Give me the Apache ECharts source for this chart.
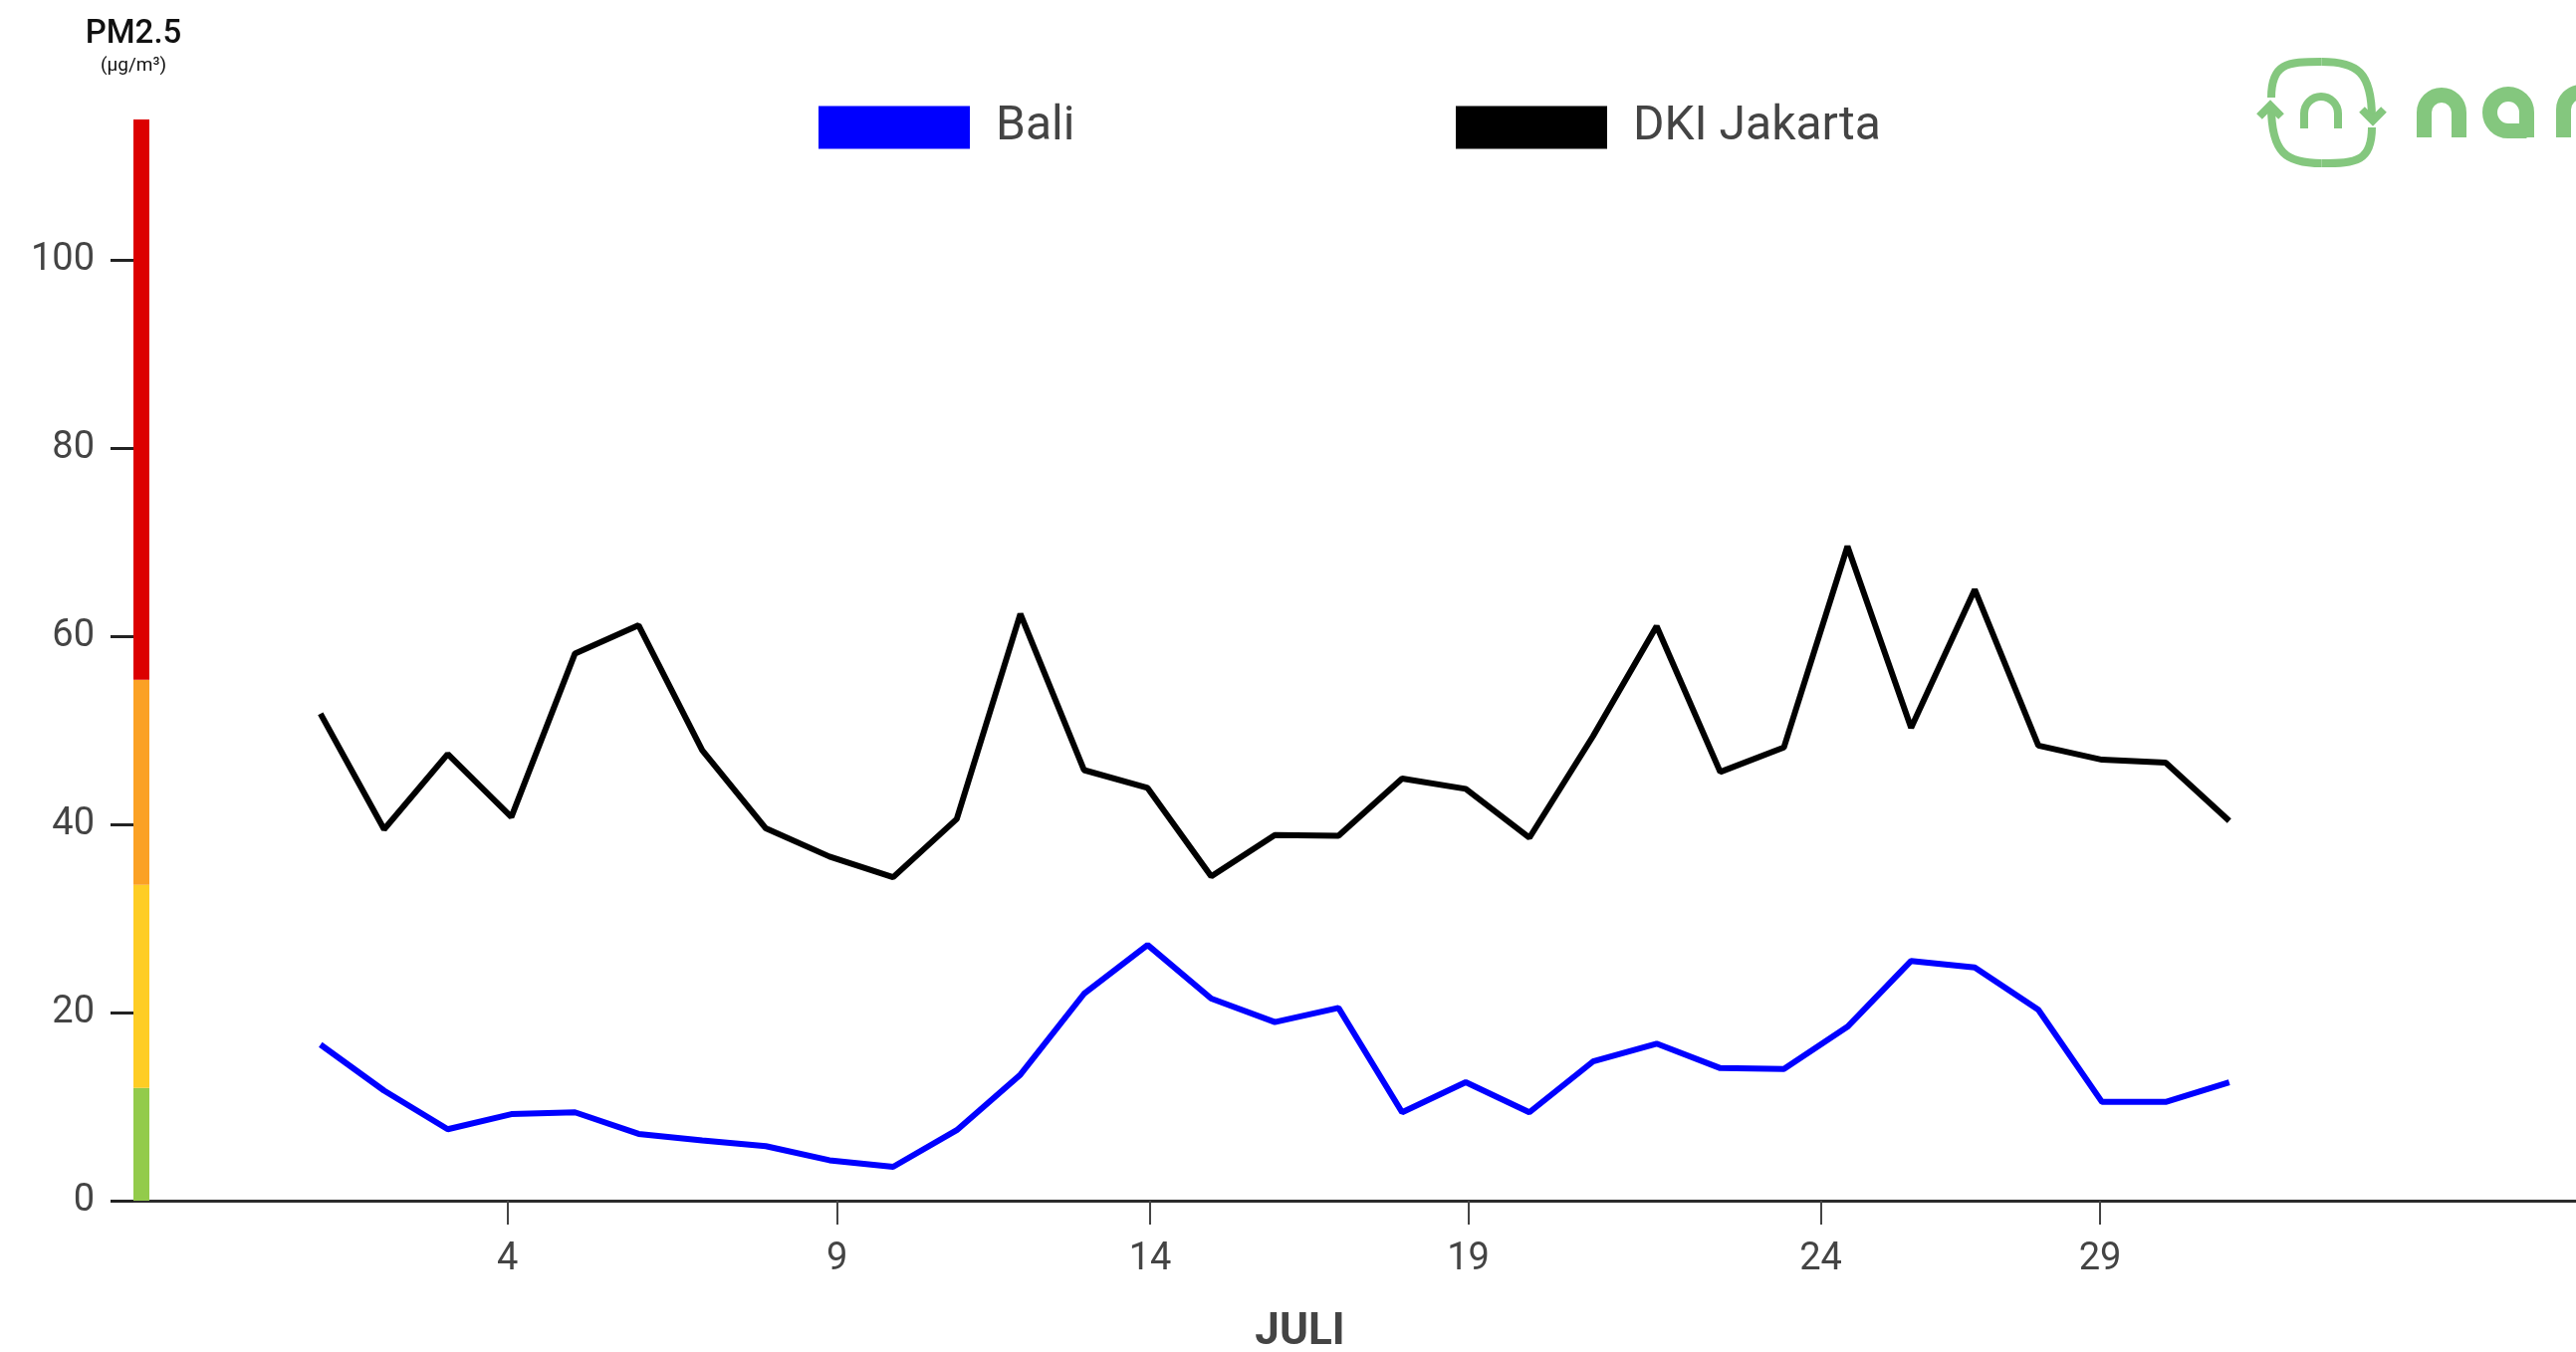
<!DOCTYPE html>
<html>
<head>
<meta charset="utf-8">
<title>PM2.5 Juli — Bali vs DKI Jakarta</title>
<script src="https://cdn.jsdelivr.net/npm/echarts@6/dist/echarts.min.js"></script>
<style>
  html, body { margin: 0; padding: 0; background: #ffffff; }
  #chart { width: 2587px; height: 1358px; }
</style>
</head>
<body>
<div id="chart"></div>
<script>
// Daily PM2.5 averages for July (µg/m³)
const days = [1, 2, 3, 4, 5, 6, 7, 8, 9, 10, 11, 12, 13, 14, 15, 16, 17, 18, 19, 20, 21, 22, 23, 24, 25, 26, 27, 28, 29, 30, 31];
const bali = [16.6, 11.7, 7.6, 9.2, 9.4, 7.1, 6.4, 5.8, 4.3, 3.6, 7.5, 13.4, 22.0, 27.2, 21.5, 19.0, 20.5, 9.4, 12.6, 9.4, 14.8, 16.7, 14.1, 14.0, 18.5, 25.5, 24.8, 20.3, 10.5, 10.5, 12.6];
const jakarta = [51.8, 39.5, 47.5, 40.8, 58.2, 61.2, 47.9, 39.6, 36.6, 34.4, 40.6, 62.4, 45.8, 43.9, 34.5, 38.9, 38.8, 44.9, 43.8, 38.6, 49.4, 61.1, 45.6, 48.2, 69.6, 50.3, 65.0, 48.4, 46.9, 46.6, 40.4];

// Day-axis ticks and their labels
const xTickValues = [3.94, 9.12, 14.04, 19.04, 24.58, 28.97];
const xTickLabels = ['4', '9', '14', '19', '24', '29'];
const yTickValues = [0, 20, 40, 60, 80, 100];

// Upper limits of the air-quality colour bands on the PM2.5 scale
const bandLimits = [12, 33.6, 55.4, 115];
const bandColors = ['#93cb4b', '#fecd24', '#fba124', '#dc0000'];

const seriesNames = ['Bali', 'DKI Jakarta'];
const seriesColors = ['#0000ff', '#000000'];

const FONT = 'Roboto, "Liberation Sans", sans-serif';
const LOGO_GREEN = '#84c77e';

const chart = echarts.init(document.getElementById('chart'), null, { renderer: 'canvas' });

function legendFor(name, left) {
  return {
    data: [name],
    left: left,
    top: 104,
    padding: 0,
    icon: 'rect',
    itemWidth: 152,
    itemHeight: 43,
    selectedMode: false,
    textStyle: { fontFamily: FONT, fontSize: 48, color: '#444444', padding: [0, 0, 0, 21] }
  };
}

function lineSeries(name, values, color) {
  return {
    name: name,
    type: 'line',
    xAxisIndex: 0,
    yAxisIndex: 0,
    data: days.map((d, i) => [d, values[i]]),
    symbol: 'none',
    silent: true,
    lineStyle: { color: color, width: 6 },
    itemStyle: { color: color },
    z: 3
  };
}

const bandSeries = bandLimits.map((lim, i) => ({
  type: 'bar',
  xAxisIndex: 1,
  yAxisIndex: 1,
  stack: 'bands',
  barWidth: '100%',
  silent: true,
  data: [lim - (i > 0 ? bandLimits[i - 1] : 0)],
  itemStyle: { color: bandColors[i] },
  z: 1
}));

// Logo drawn from simple strokes
const logoStroke = (w) => ({ stroke: LOGO_GREEN, lineWidth: w, fill: null });
const logo = [
  { type: 'bezierCurve', shape: { x1: 2281, y1: 98, cpx1: 2281, cpy1: 64, cpx2: 2296, cpy2: 62, x2: 2331.5, y2: 62 }, style: logoStroke(8) },
  { type: 'bezierCurve', shape: { x1: 2331.5, y1: 62, cpx1: 2367, cpy1: 62, cpx2: 2382, cpy2: 72, x2: 2382, y2: 119 }, style: logoStroke(8) },
  { type: 'polyline', shape: { points: [[2372, 110], [2383, 121], [2394, 110]] }, style: logoStroke(8) },
  { type: 'bezierCurve', shape: { x1: 2382, y1: 128, cpx1: 2382, cpy1: 162, cpx2: 2367, cpy2: 164, x2: 2331.5, y2: 164 }, style: logoStroke(8) },
  { type: 'bezierCurve', shape: { x1: 2331.5, y1: 164, cpx1: 2296, cpy1: 164, cpx2: 2281, cpy2: 154, x2: 2281, y2: 107 }, style: logoStroke(8) },
  { type: 'polyline', shape: { points: [[2269, 117], [2280, 106], [2291, 117]] }, style: logoStroke(8) },
  { type: 'line', shape: { x1: 2314, y1: 129, x2: 2314, y2: 114 }, style: logoStroke(8) },
  { type: 'line', shape: { x1: 2348, y1: 129, x2: 2348, y2: 114 }, style: logoStroke(8) },
  { type: 'arc', shape: { cx: 2331, cy: 114, r: 17, startAngle: Math.PI, endAngle: Math.PI * 2, clockwise: true }, style: logoStroke(8) },
  // wordmark letters
  { type: 'line', shape: { x1: 2434.5, y1: 138, x2: 2434.5, y2: 113 }, style: logoStroke(15) },
  { type: 'line', shape: { x1: 2469.5, y1: 138, x2: 2469.5, y2: 113 }, style: logoStroke(15) },
  { type: 'arc', shape: { cx: 2452, cy: 113, r: 17.5, startAngle: Math.PI, endAngle: Math.PI * 2, clockwise: true }, style: logoStroke(15) },
  { type: 'arc', shape: { cx: 2519, cy: 113, r: 18.5, startAngle: Math.PI / 2, endAngle: Math.PI * 2, clockwise: true }, style: logoStroke(15) },
  { type: 'line', shape: { x1: 2519, y1: 131.5, x2: 2537.5, y2: 131.5 }, style: logoStroke(15) },
  { type: 'line', shape: { x1: 2537.5, y1: 138, x2: 2537.5, y2: 113 }, style: logoStroke(15) },
  { type: 'line', shape: { x1: 2574.5, y1: 138, x2: 2574.5, y2: 110 }, style: logoStroke(15) },
  { type: 'arc', shape: { cx: 2592, cy: 110, r: 17.5, startAngle: Math.PI, endAngle: Math.PI * 1.5, clockwise: true }, style: logoStroke(15) }
];

const option = {
  backgroundColor: '#ffffff',
  animation: false,
  textStyle: { fontFamily: FONT },
  legend: [legendFor(seriesNames[0], 822), legendFor(seriesNames[1], 1462)],
  grid: [
    { left: 134, right: 0, top: 120, bottom: 152, containLabel: false, outerBoundsMode: 'none' },
    { left: 134, width: 16, top: 120, bottom: 152, containLabel: false, outerBoundsMode: 'none' }
  ],
  xAxis: [
    {
      type: 'value',
      gridIndex: 0,
      min: -1.94,
      max: 36.45,
      splitLine: { show: false },
      axisLine: { show: true, onZero: false, lineStyle: { color: '#2b2b2b', width: 3 } },
      axisTick: { show: true, customValues: xTickValues, length: 24, lineStyle: { color: '#444444', width: 2 } },
      axisLabel: {
        customValues: xTickValues,
        formatter: (v) => {
          const k = xTickValues.findIndex((t) => Math.abs(t - v) < 1e-6);
          return k >= 0 ? xTickLabels[k] : '';
        },
        fontFamily: FONT,
        fontSize: 38,
        color: '#444444',
        margin: 40
      },
      name: 'JULI',
      nameLocation: 'middle',
      nameGap: 111,
      nameTextStyle: { fontFamily: FONT, fontSize: 44, fontWeight: 'bold', color: '#444444', padding: [0, 110, 0, 0], verticalAlign: 'top' }
    },
    { type: 'category', gridIndex: 1, data: ['PM2.5'], show: false }
  ],
  yAxis: [
    {
      type: 'value',
      gridIndex: 0,
      position: 'left',
      min: 0,
      max: 115,
      splitLine: { show: false },
      axisLine: { show: false, onZero: false },
      axisTick: { show: true, customValues: yTickValues, length: 23, lineStyle: { color: '#222222', width: 3 } },
      axisLabel: { customValues: yTickValues, fontFamily: FONT, fontSize: 38, color: '#444444', margin: 39 },
      name: '{a|PM2.5}\n{b|(µg/m³)}',
      nameLocation: 'end',
      nameGap: 42,
      nameTextStyle: {
        align: 'center',
        verticalAlign: 'bottom',
        rich: {
          a: { fontFamily: FONT, fontSize: 33, fontWeight: 500, color: '#111111', lineHeight: 38, align: 'center' },
          b: { fontFamily: FONT, fontSize: 19, color: '#111111', lineHeight: 24, align: 'center' }
        }
      }
    },
    { type: 'value', gridIndex: 1, min: 0, max: 115, show: false }
  ],
  series: [
    lineSeries(seriesNames[0], bali, seriesColors[0]),
    lineSeries(seriesNames[1], jakarta, seriesColors[1])
  ].concat(bandSeries),
  graphic: { elements: logo }
};

chart.setOption(option);
</script>
</body>
</html>
